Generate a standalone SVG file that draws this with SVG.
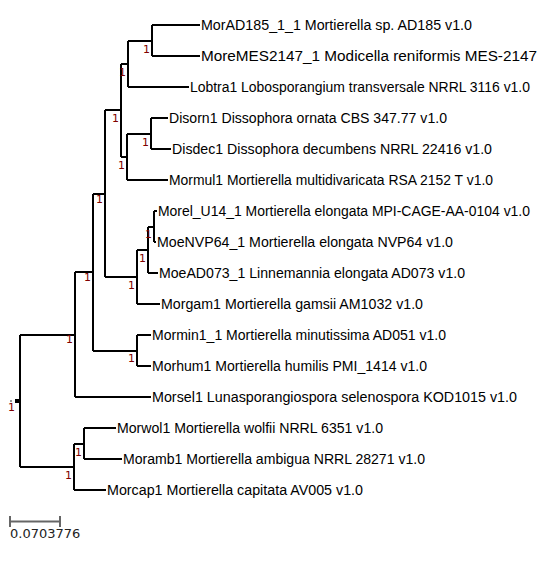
<svg xmlns="http://www.w3.org/2000/svg" width="545" height="566" viewBox="0 0 545 566">
<style>
.e{fill:none;stroke:#000;stroke-width:2}
.lab{font-family:"Liberation Sans",Arial,sans-serif;font-size:14px;fill:#000}
.sup{font-family:"DejaVu Sans",sans-serif;font-size:11px;fill:#800000;text-anchor:end}
.sb{fill:none;stroke:#666;stroke-width:2}
</style>
<rect width="545" height="566" fill="#fff"/>
<g id="connectors">
<path class="e" d="M20 335V467"/>
<path class="e" d="M20 335H75M20 467H74"/>
<path class="e" d="M75 272V397M75 272H93M75 397H151"/>
<path class="e" d="M93 194V351M93 194H105M93 351H137"/>
<path class="e" d="M105 110V277M105 110H121M105 277H137"/>
<path class="e" d="M121 64V157M121 64H128M121 157H127"/>
<path class="e" d="M128 41V87M128 41H152M128 87H189"/>
<path class="e" d="M152 25V56M152 25H200M152 56H200"/>
<path class="e" d="M127 134V180M127 134H151M127 180H168"/>
<path class="e" d="M151 118V149M151 118H168M151 149H171"/>
<path class="e" d="M137 250V304M137 250H148M137 304H160"/>
<path class="e" d="M148 227V273M148 227H154M148 273H158"/>
<path class="e" d="M154 211V242M154 211H157M154 242H156"/>
<path class="e" d="M137 335V366M137 335H151M137 366H151"/>
<path class="e" d="M74 444V490M74 444H84M74 490H106"/>
<path class="e" d="M84 428V459M84 428H116M84 459H122"/>
</g>
<g id="root"><rect x="10" y="400" width="2" height="2" fill="#999"/><rect x="15" y="399" width="4" height="4" fill="#000"/><text class="sup" x="15" y="411">1</text></g>
<g id="nL"><text class="sup" x="73" y="343">1</text></g>
<g id="nJ"><text class="sup" x="91" y="281">1</text></g>
<g id="nF"><text class="sup" x="103" y="203">1</text></g>
<g id="nC"><text class="sup" x="119" y="122">1</text></g>
<g id="nB"><text class="sup" x="126" y="76">1</text></g>
<g id="nA"><text class="sup" x="150" y="53">1</text></g>
<g id="nE"><text class="sup" x="125" y="169">1</text></g>
<g id="nD"><text class="sup" x="149" y="146">1</text></g>
<g id="nG"><text class="sup" x="135" y="289">1</text></g>
<g id="nH"><text class="sup" x="146" y="262">1</text></g>
<g id="nI"><text class="sup" x="152" y="238">1</text></g>
<g id="nK"><text class="sup" x="135" y="362">1</text></g>
<g id="nN"><text class="sup" x="72" y="479">1</text></g>
<g id="nM"><text class="sup" x="82" y="456">1</text></g>
<g id="leaf1"><text class="lab" x="201" y="30" textLength="271" lengthAdjust="spacingAndGlyphs">MorAD185_1_1 Mortierella sp. AD185 v1.0</text></g>
<g id="leaf2"><text class="lab" x="201" y="61" textLength="336" lengthAdjust="spacingAndGlyphs">MoreMES2147_1 Modicella reniformis MES-2147</text></g>
<g id="leaf3"><text class="lab" x="190" y="92" textLength="340" lengthAdjust="spacingAndGlyphs">Lobtra1 Lobosporangium transversale NRRL 3116 v1.0</text></g>
<g id="leaf4"><text class="lab" x="169" y="123" textLength="278" lengthAdjust="spacingAndGlyphs">Disorn1 Dissophora ornata CBS 347.77 v1.0</text></g>
<g id="leaf5"><text class="lab" x="172" y="154" textLength="320" lengthAdjust="spacingAndGlyphs">Disdec1 Dissophora decumbens NRRL 22416 v1.0</text></g>
<g id="leaf6"><text class="lab" x="169" y="185" textLength="324" lengthAdjust="spacingAndGlyphs">Mormul1 Mortierella multidivaricata RSA 2152 T v1.0</text></g>
<g id="leaf7"><text class="lab" x="158" y="216" textLength="372" lengthAdjust="spacingAndGlyphs">Morel_U14_1 Mortierella elongata MPI-CAGE-AA-0104 v1.0</text></g>
<g id="leaf8"><text class="lab" x="157" y="247" textLength="296" lengthAdjust="spacingAndGlyphs">MoeNVP64_1 Mortierella elongata NVP64 v1.0</text></g>
<g id="leaf9"><text class="lab" x="159" y="278" textLength="306" lengthAdjust="spacingAndGlyphs">MoeAD073_1 Linnemannia elongata AD073 v1.0</text></g>
<g id="leaf10"><text class="lab" x="161" y="309" textLength="262" lengthAdjust="spacingAndGlyphs">Morgam1 Mortierella gamsii AM1032 v1.0</text></g>
<g id="leaf11"><text class="lab" x="152" y="340" textLength="294" lengthAdjust="spacingAndGlyphs">Mormin1_1 Mortierella minutissima AD051 v1.0</text></g>
<g id="leaf12"><text class="lab" x="152" y="371" textLength="275" lengthAdjust="spacingAndGlyphs">Morhum1 Mortierella humilis PMI_1414 v1.0</text></g>
<g id="leaf13"><text class="lab" x="152" y="402" textLength="365" lengthAdjust="spacingAndGlyphs">Morsel1 Lunasporangiospora selenospora KOD1015 v1.0</text></g>
<g id="leaf14"><text class="lab" x="117" y="433" textLength="266" lengthAdjust="spacingAndGlyphs">Morwol1 Mortierella wolfii NRRL 6351 v1.0</text></g>
<g id="leaf15"><text class="lab" x="123" y="464" textLength="302" lengthAdjust="spacingAndGlyphs">Moramb1 Mortierella ambigua NRRL 28271 v1.0</text></g>
<g id="leaf16"><text class="lab" x="107" y="495" textLength="256" lengthAdjust="spacingAndGlyphs">Morcap1 Mortierella capitata AV005 v1.0</text></g>
<g id="scalebar">
<path class="sb" d="M10 521.5H60M10 516V527M60 516V527"/>
<text x="10" y="538" style="font-family:'DejaVu Sans',sans-serif;font-size:13px;fill:#222">0.0703776</text>
</g>
</svg>
